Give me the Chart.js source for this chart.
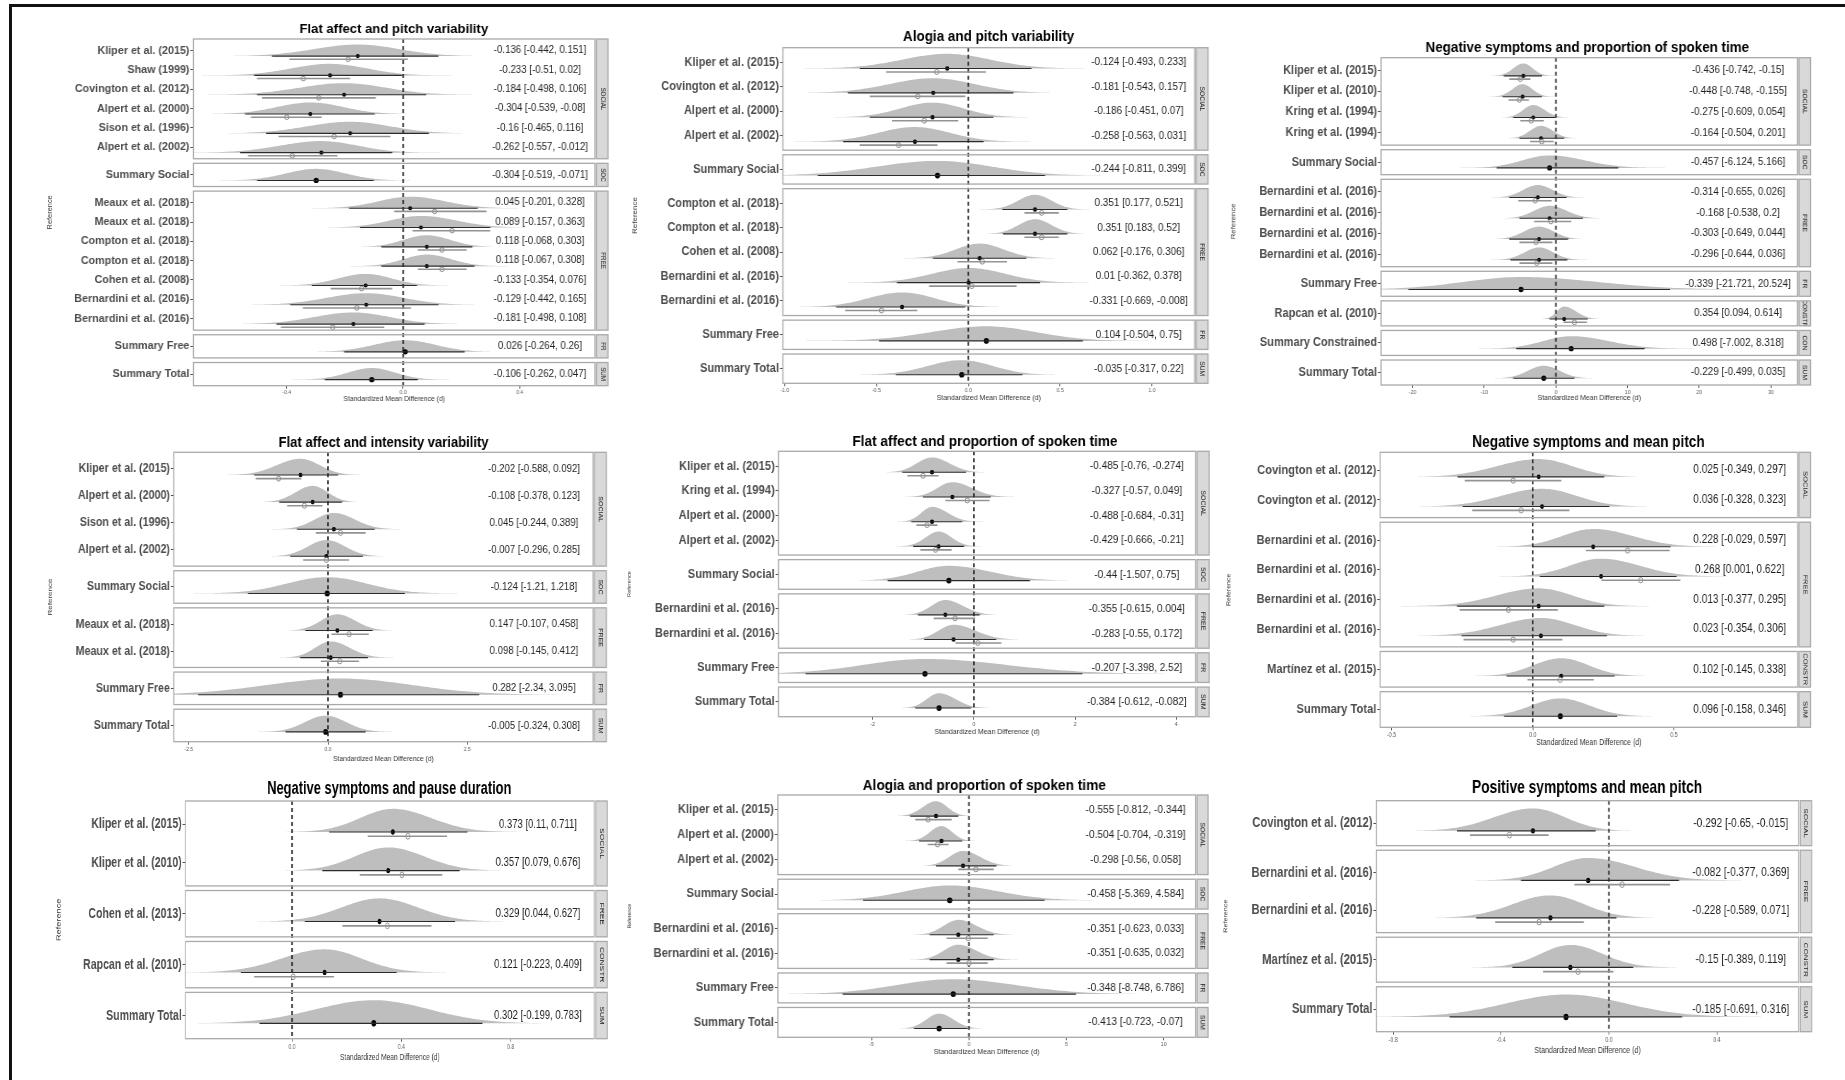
<!DOCTYPE html>
<html>
<head>
<meta charset="utf-8">
<script src="https://cdn.jsdelivr.net/npm/chart.js@4.4.1/dist/chart.umd.min.js"></script>
<style>
  html, body { margin: 0; padding: 0; background: #fff; }
  body { width: 1845px; height: 1080px; position: relative; overflow: hidden; }
  canvas { position: absolute; transform-origin: 0 0; }
  .edge { position: absolute; background: #111; }
</style>
</head>
<body>
<div class="edge" style="left:9px;top:4px;width:1836px;height:3px"></div>
<div class="edge" style="left:9px;top:4px;width:3px;height:1076px"></div>
<script>
// Nine forest plots (posterior densities + intervals), one Chart.js chart each

// ---- 1. Flat affect and pitch variability
var p1Title = "Flat affect and pitch variability";
var p1Facets = ["SOCIAL", "SOC", "FREE", "FR", "SUM"];
var p1FacetRows = [6, 1, 7, 1, 1];
var p1Labels = ["Kliper et al. (2015)", "Shaw (1999)", "Covington et al. (2012)", "Alpert et al. (2000)", "Sison et al. (1996)", "Alpert et al. (2002)", "Summary Social", "Meaux et al. (2018)", "Meaux et al. (2018)", "Compton et al. (2018)", "Compton et al. (2018)", "Cohen et al. (2008)", "Bernardini et al. (2016)", "Bernardini et al. (2016)", "Summary Free", "Summary Total"];
var p1Est = [-0.156, -0.251, -0.203, -0.319, -0.182, -0.281, -0.299, 0.024, 0.061, 0.081, 0.081, -0.129, -0.127, -0.171, 0.007, -0.108];
var p1Lo = [-0.451, -0.512, -0.502, -0.543, -0.471, -0.560, -0.502, -0.186, -0.148, -0.075, -0.075, -0.314, -0.388, -0.435, -0.203, -0.269];
var p1Hi = [0.121, -0.004, 0.079, -0.098, 0.088, -0.038, -0.101, 0.256, 0.299, 0.238, 0.245, 0.047, 0.121, 0.074, 0.211, 0.050];
var p1Obs = [-0.189, -0.343, -0.290, -0.400, -0.237, -0.381, null, 0.108, 0.168, 0.133, 0.133, -0.143, -0.159, -0.242, null, null];
var p1ObsLo = [-0.391, -0.502, -0.485, -0.523, -0.428, -0.533, null, -0.031, 0.032, 0.050, 0.050, -0.249, -0.345, -0.420, null, null];
var p1ObsHi = [0.016, -0.182, -0.094, -0.280, -0.044, -0.226, null, 0.286, 0.299, 0.218, 0.218, -0.038, 0.027, -0.065, null, null];
var p1Text = ["-0.136 [-0.442, 0.151]", "-0.233 [-0.51, 0.02]", "-0.184 [-0.498, 0.106]", "-0.304 [-0.539, -0.08]", "-0.16 [-0.465, 0.116]", "-0.262 [-0.557, -0.012]", "-0.304 [-0.519, -0.071]", "0.045 [-0.201, 0.328]", "0.089 [-0.157, 0.363]", "0.118 [-0.068, 0.303]", "0.118 [-0.067, 0.308]", "-0.133 [-0.354, 0.076]", "-0.129 [-0.442, 0.165]", "-0.181 [-0.498, 0.108]", "0.026 [-0.264, 0.26]", "-0.106 [-0.262, 0.047]"];
var p1Ticks = [-0.4, 0, 0.4];
var p1TickLabels = ["-0.4", "0.0", "0.4"];

// ---- 2. Alogia and pitch variability
var p2Title = "Alogia and pitch variability";
var p2Facets = ["SOCIAL", "SOC", "FREE", "FR", "SUM"];
var p2FacetRows = [4, 1, 5, 1, 1];
var p2Labels = ["Kliper et al. (2015)", "Covington et al. (2012)", "Alpert et al. (2000)", "Alpert et al. (2002)", "Summary Social", "Compton et al. (2018)", "Compton et al. (2018)", "Cohen et al. (2008)", "Bernardini et al. (2016)", "Bernardini et al. (2016)", "Summary Free", "Summary Total"];
var p2Est = [-0.115, -0.191, -0.195, -0.291, -0.168, 0.363, 0.363, 0.062, 0.002, -0.361, 0.098, -0.036];
var p2Lo = [-0.592, -0.656, -0.537, -0.682, -0.820, 0.185, 0.189, -0.193, -0.389, -0.720, -0.486, -0.395];
var p2Hi = [0.344, 0.246, 0.136, 0.083, 0.418, 0.539, 0.539, 0.316, 0.391, -0.017, 0.624, 0.295];
var p2Obs = [-0.172, -0.276, -0.240, -0.380, null, 0.399, 0.399, 0.076, 0.019, -0.473, null, null];
var p2ObsLo = [-0.448, -0.537, -0.416, -0.592, null, 0.306, 0.306, -0.059, -0.214, -0.671, null, null];
var p2ObsHi = [0.096, -0.017, -0.055, -0.168, null, 0.493, 0.493, 0.210, 0.263, -0.278, null, null];
var p2Text = ["-0.124 [-0.493, 0.233]", "-0.181 [-0.543, 0.157]", "-0.186 [-0.451, 0.07]", "-0.258 [-0.563, 0.031]", "-0.244 [-0.811, 0.399]", "0.351 [0.177, 0.521]", "0.351 [0.183, 0.52]", "0.062 [-0.176, 0.306]", "0.01 [-0.362, 0.378]", "-0.331 [-0.669, -0.008]", "0.104 [-0.504, 0.75]", "-0.035 [-0.317, 0.22]"];
var p2Ticks = [-1, -0.5, 0, 0.5, 1];
var p2TickLabels = ["-1.0", "-0.5", "0.0", "0.5", "1.0"];

// ---- 3. Negative symptoms and proportion of spoken time
var p3Title = "Negative symptoms and proportion of spoken time";
var p3Facets = ["SOCIAL", "SOC", "FREE", "FR", "CONSTR", "CON", "SUM"];
var p3FacetRows = [4, 1, 4, 1, 1, 1, 1];
var p3Labels = ["Kliper et al. (2015)", "Kliper et al. (2010)", "Kring et al. (1994)", "Kring et al. (1994)", "Summary Social", "Bernardini et al. (2016)", "Bernardini et al. (2016)", "Bernardini et al. (2016)", "Bernardini et al. (2016)", "Summary Free", "Rapcan et al. (2010)", "Summary Constrained", "Summary Total"];
var p3Est = [-4.54, -4.65, -3.17, -2.08, -0.88, -2.52, -0.88, -2.35, -2.35, -4.87, 1.15, 2.13, -1.70];
var p3Lo = [-7.28, -7.44, -5.96, -5.09, -8.26, -6.51, -5.09, -6.51, -6.35, -20.57, -0.88, -5.53, -5.96];
var p3Hi = [-1.97, -1.97, -0.05, 1.15, 8.70, 1.48, 3.77, 1.70, 1.59, 15.92, 4.43, 12.36, 2.57];
var p3Obs = [-4.98, -5.09, -3.45, -1.97, null, -2.90, -0.71, -2.79, -2.68, null, 2.57, null, null];
var p3ObsLo = [-6.51, -6.62, -4.98, -3.61, null, -5.25, -3.06, -5.09, -5.09, null, 1.04, null, null];
var p3ObsHi = [-3.56, -3.77, -1.70, -0.33, null, -0.60, 2.13, -0.49, -0.49, null, 4.32, null, null];
var p3Text = ["-0.436 [-0.742, -0.15]", "-0.448 [-0.748, -0.155]", "-0.275 [-0.609, 0.054]", "-0.164 [-0.504, 0.201]", "-0.457 [-6.124, 5.166]", "-0.314 [-0.655, 0.026]", "-0.168 [-0.538, 0.2]", "-0.303 [-0.649, 0.044]", "-0.296 [-0.644, 0.036]", "-0.339 [-21.721, 20.524]", "0.354 [0.094, 0.614]", "0.498 [-7.002, 8.318]", "-0.229 [-0.499, 0.035]"];
var p3Ticks = [-20, -10, 0, 10, 20, 30];
var p3TickLabels = ["-20", "-10", "0", "10", "20", "30"];

// ---- 4. Flat affect and intensity variability
var p4Title = "Flat affect and intensity variability";
var p4Facets = ["SOCIAL", "SOC", "FREE", "FR", "SUM"];
var p4FacetRows = [4, 1, 2, 1, 1];
var p4Labels = ["Kliper et al. (2015)", "Alpert et al. (2000)", "Sison et al. (1996)", "Alpert et al. (2002)", "Summary Social", "Meaux et al. (2018)", "Meaux et al. (2018)", "Summary Free", "Summary Total"];
var p4Est = [-0.493, -0.275, 0.106, -0.028, -0.014, 0.169, 0.049, 0.225, -0.042];
var p4Lo = [-1.324, -0.873, -0.556, -0.676, -1.437, -0.408, -0.500, -2.331, -0.761];
var p4Hi = [0.183, 0.254, 0.838, 0.627, 1.380, 0.803, 0.718, 2.718, 0.676];
var p4Obs = [-0.887, -0.423, 0.225, -0.028, null, 0.380, 0.211, null, null];
var p4ObsLo = [-1.296, -0.732, -0.218, -0.444, null, 0.063, -0.127, null, null];
var p4ObsHi = [-0.479, -0.099, 0.676, 0.380, null, 0.732, 0.556, null, null];
var p4Text = ["-0.202 [-0.588, 0.092]", "-0.108 [-0.378, 0.123]", "0.045 [-0.244, 0.389]", "-0.007 [-0.296, 0.285]", "-0.124 [-1.21, 1.218]", "0.147 [-0.107, 0.458]", "0.098 [-0.145, 0.412]", "0.282 [-2.34, 3.095]", "-0.005 [-0.324, 0.308]"];
var p4Ticks = [-2.5, 0, 2.5];
var p4TickLabels = ["-2.5", "0.0", "2.5"];

// ---- 5. Flat affect and proportion of spoken time
var p5Title = "Flat affect and proportion of spoken time";
var p5Facets = ["SOCIAL", "SOC", "FREE", "FR", "SUM"];
var p5FacetRows = [4, 1, 2, 1, 1];
var p5Labels = ["Kliper et al. (2015)", "Kring et al. (1994)", "Alpert et al. (2000)", "Alpert et al. (2002)", "Summary Social", "Bernardini et al. (2016)", "Bernardini et al. (2016)", "Summary Free", "Summary Total"];
var p5Est = [-0.828, -0.426, -0.828, -0.697, -0.495, -0.565, -0.402, -0.967, -0.689];
var p5Lo = [-1.416, -1.006, -1.238, -1.200, -1.703, -1.107, -0.983, -3.328, -1.161];
var p5Hi = [-0.155, 0.333, -0.232, -0.194, 1.107, 0.116, 0.441, 2.144, -0.054];
var p5Obs = [-1.006, -0.132, -0.929, -0.759, null, -0.372, 0.077, null, null];
var p5ObsLo = [-1.316, -0.565, -1.138, -1.060, null, -0.797, -0.364, null, null];
var p5ObsHi = [-0.697, 0.310, -0.720, -0.441, null, 0.023, 0.542, null, null];
var p5Text = ["-0.485 [-0.76, -0.274]", "-0.327 [-0.57, 0.049]", "-0.488 [-0.684, -0.31]", "-0.429 [-0.666, -0.21]", "-0.44 [-1.507, 0.75]", "-0.355 [-0.615, 0.004]", "-0.283 [-0.55, 0.172]", "-0.207 [-3.398, 2.52]", "-0.384 [-0.612, -0.082]"];
var p5Ticks = [-2, 0, 2, 4];
var p5TickLabels = ["-2", "0", "2", "4"];

// ---- 6. Negative symptoms and mean pitch
var p6Title = "Negative symptoms and mean pitch";
var p6Facets = ["SOCIAL", "FREE", "CONSTR", "SUM"];
var p6FacetRows = [2, 4, 1, 1];
var p6Labels = ["Covington et al. (2012)", "Covington et al. (2012)", "Bernardini et al. (2016)", "Bernardini et al. (2016)", "Bernardini et al. (2016)", "Bernardini et al. (2016)", "Martínez et al. (2015)", "Summary Total"];
var p6Est = [0.021, 0.033, 0.214, 0.242, 0.021, 0.029, 0.101, 0.098];
var p6Lo = [-0.266, -0.248, 0.000, 0.025, -0.268, -0.252, -0.093, -0.102];
var p6Hi = [0.253, 0.271, 0.488, 0.509, 0.253, 0.263, 0.290, 0.299];
var p6Obs = [-0.069, -0.041, 0.336, 0.382, -0.086, -0.069, 0.097, null];
var p6ObsLo = [-0.241, -0.214, 0.188, 0.243, -0.259, -0.245, -0.019, null];
var p6ObsHi = [0.101, 0.130, 0.485, 0.523, 0.089, 0.105, 0.216, null];
var p6Text = ["0.025 [-0.349, 0.297]", "0.036 [-0.328, 0.323]", "0.228 [-0.029, 0.597]", "0.268 [0.001, 0.622]", "0.013 [-0.377, 0.295]", "0.023 [-0.354, 0.306]", "0.102 [-0.145, 0.338]", "0.096 [-0.158, 0.346]"];
var p6Ticks = [-0.5, 0, 0.5];
var p6TickLabels = ["-0.5", "0.0", "0.5"];

// ---- 7. Negative symptoms and pause duration
var p7Title = "Negative symptoms and pause duration";
var p7Facets = ["SOCIAL", "FREE", "CONSTR", "SUM"];
var p7FacetRows = [2, 1, 1, 1];
var p7Labels = ["Kliper et al. (2015)", "Kliper et al. (2010)", "Cohen et al. (2013)", "Rapcan et al. (2010)", "Summary Total"];
var p7Est = [0.369, 0.352, 0.320, 0.119, 0.299];
var p7Lo = [0.136, 0.111, 0.047, -0.187, -0.119];
var p7Hi = [0.642, 0.613, 0.596, 0.383, 0.697];
var p7Obs = [0.424, 0.402, 0.349, 0.004, null];
var p7ObsLo = [0.277, 0.248, 0.184, -0.139, null];
var p7ObsHi = [0.567, 0.550, 0.510, 0.154, null];
var p7Text = ["0.373 [0.11, 0.711]", "0.357 [0.079, 0.676]", "0.329 [0.044, 0.627]", "0.121 [-0.223, 0.409]", "0.302 [-0.199, 0.783]"];
var p7Ticks = [0, 0.4, 0.8];
var p7TickLabels = ["0.0", "0.4", "0.8"];

// ---- 8. Alogia and proportion of spoken time
var p8Title = "Alogia and proportion of spoken time";
var p8Facets = ["SOCIAL", "SOC", "FREE", "FR", "SUM"];
var p8FacetRows = [3, 1, 2, 1, 1];
var p8Labels = ["Kliper et al. (2015)", "Alpert et al. (2000)", "Alpert et al. (2002)", "Summary Social", "Bernardini et al. (2016)", "Bernardini et al. (2016)", "Summary Free", "Summary Total"];
var p8Est = [-1.691, -1.409, -0.302, -0.987, -0.544, -0.544, -0.805, -1.530];
var p8Lo = [-3.020, -2.557, -1.691, -5.436, -2.013, -2.013, -6.483, -2.819];
var p8Hi = [-0.544, -0.342, 1.409, 3.886, 1.268, 1.268, 5.496, -0.081];
var p8Obs = [-2.094, -1.611, 0.362, null, -0.040, 0.000, null, null];
var p8ObsLo = [-2.758, -2.114, -0.544, null, -1.148, -1.148, null, null];
var p8ObsHi = [-0.886, -1.047, 1.268, null, 0.966, 0.966, null, null];
var p8Text = ["-0.555 [-0.812, -0.344]", "-0.504 [-0.704, -0.319]", "-0.298 [-0.56, 0.058]", "-0.458 [-5.369, 4.584]", "-0.351 [-0.623, 0.033]", "-0.351 [-0.635, 0.032]", "-0.348 [-8.748, 6.786]", "-0.413 [-0.723, -0.07]"];
var p8Ticks = [-5, 0, 5, 10];
var p8TickLabels = ["-5", "0", "5", "10"];

// ---- 9. Positive symptoms and mean pitch
var p9Title = "Positive symptoms and mean pitch";
var p9Facets = ["SOCIAL", "FREE", "CONSTR", "SUM"];
var p9FacetRows = [1, 2, 1, 1];
var p9Labels = ["Covington et al. (2012)", "Bernardini et al. (2016)", "Bernardini et al. (2016)", "Martínez et al. (2015)", "Summary Total"];
var p9Est = [-0.282, -0.077, -0.217, -0.143, -0.159];
var p9Lo = [-0.564, -0.326, -0.492, -0.358, -0.591];
var p9Hi = [-0.049, 0.260, 0.028, 0.090, 0.271];
var p9Obs = [-0.369, 0.049, -0.259, -0.115, null];
var p9ObsLo = [-0.515, -0.128, -0.422, -0.244, null];
var p9ObsHi = [-0.224, 0.227, -0.093, 0.017, null];
var p9Text = ["-0.292 [-0.65, -0.015]", "-0.082 [-0.377, 0.369]", "-0.228 [-0.589, 0.071]", "-0.15 [-0.389, 0.119]", "-0.185 [-0.691, 0.316]"];
var p9Ticks = [-0.8, -0.4, 0, 0.4];
var p9TickLabels = ["-0.8", "-0.4", "0.0", "0.4"];

// ---- styles
var FONT = "'Liberation Sans', Arial, Helvetica, sans-serif";
var DENSITY = "#bebebe";
var EST_LINE = "#2b2b2b";
var OBS_LINE = "#939393";
var BORDER = "#a9a9a9";
var STRIP = "#d9d9d9";
var LABEL = "#4d4d4d";
var GAP = 4.6;      // px between facet boxes
var X_AXIS_H = 14;  // px reserved for x tick marks + labels

Chart.defaults.font.family = FONT;
Chart.defaults.color = LABEL;

// layout: canvas [left, top, w, h] and box = plot area [l, t, r, b] in page px;
// sx = horizontal squeeze of the panel, fs = label font size
var panels = [
  { title: p1Title, facets: p1Facets, facetRows: p1FacetRows, labels: p1Labels, est: p1Est, lo: p1Lo, hi: p1Hi, obs: p1Obs, obsLo: p1ObsLo, obsHi: p1ObsHi, text: p1Text, ticks: p1Ticks, tickLabels: p1TickLabels,
    canvas: [0, 0, 627, 420], box: [193.4, 39, 595.0, 385.7], stripR: 607.9, xRange: [-0.7205, 0.6587], textX: 0.47,
    titleX: 393.8, titleY: 29.3, refX: 50.2, refSize: 7.4, axisDy: 13, sx: 0.96, fs: 11.2 },
  { title: p2Title, facets: p2Facets, facetRows: p2FacetRows, labels: p2Labels, est: p2Est, lo: p2Lo, hi: p2Hi, obs: p2Obs, obsLo: p2ObsLo, obsHi: p2ObsHi, text: p2Text, ticks: p2Ticks, tickLabels: p2TickLabels,
    canvas: [603, 0, 627, 420], box: [782.9, 47.7, 1194.7, 383.3], stripR: 1208, xRange: [-1.01, 1.233], textX: 0.928,
    titleX: 988.6, titleY: 36.7, refX: 635.4, refSize: 8, axisDy: 15, sx: 0.92, fs: 12 },
  { title: p3Title, facets: p3Facets, facetRows: p3FacetRows, labels: p3Labels, est: p3Est, lo: p3Lo, hi: p3Hi, obs: p3Obs, obsLo: p3ObsLo, obsHi: p3ObsHi, text: p3Text, ticks: p3Ticks, tickLabels: p3TickLabels,
    canvas: [1218, 0, 627, 420], box: [1381, 57.7, 1797.5, 385], stripR: 1810.5, xRange: [-24.4, 33.7], textX: 25.4,
    titleX: 1587.3, titleY: 48.3, refX: 1233, refSize: 7.8, axisDy: 13, sx: 0.915, fs: 12 },
  { title: p4Title, facets: p4Facets, facetRows: p4FacetRows, labels: p4Labels, est: p4Est, lo: p4Lo, hi: p4Hi, obs: p4Obs, obsLo: p4ObsLo, obsHi: p4ObsHi, text: p4Text, ticks: p4Ticks, tickLabels: p4TickLabels,
    canvas: [0, 400, 627, 380], box: [173.8, 452.3, 593, 741.7], stripR: 606.4, xRange: [-2.768, 4.76], textX: 3.70,
    titleX: 383.6, titleY: 442.7, refX: 50.2, refSize: 8, axisDy: 17, sx: 0.854, fs: 12.5 },
  { title: p5Title, facets: p5Facets, facetRows: p5FacetRows, labels: p5Labels, est: p5Est, lo: p5Lo, hi: p5Hi, obs: p5Obs, obsLo: p5ObsLo, obsHi: p5ObsHi, text: p5Text, ticks: p5Ticks, tickLabels: p5TickLabels,
    canvas: [603, 400, 627, 380], box: [778.6, 451.3, 1195.5, 716.7], stripR: 1209.2, xRange: [-3.86, 4.38], textX: 3.22,
    titleX: 985, titleY: 441.7, refX: 629.5, refSize: 5.6, axisDy: 15, sx: 0.894, fs: 12.5 },
  { title: p6Title, facets: p6Facets, facetRows: p6FacetRows, labels: p6Labels, est: p6Est, lo: p6Lo, hi: p6Hi, obs: p6Obs, obsLo: p6ObsLo, obsHi: p6ObsHi, text: p6Text, ticks: p6Ticks, tickLabels: p6TickLabels,
    canvas: [1218, 400, 627, 380], box: [1380.2, 452.3, 1797.5, 727.3], stripR: 1810.5, xRange: [-0.54, 0.9375], textX: 0.733,
    titleX: 1588.5, titleY: 442.7, refX: 1229, refSize: 7, axisDy: 15.4, sx: 0.828, fs: 13.5 },
  { title: p7Title, facets: p7Facets, facetRows: p7FacetRows, labels: p7Labels, est: p7Est, lo: p7Lo, hi: p7Hi, obs: p7Obs, obsLo: p7ObsLo, obsHi: p7ObsHi, text: p7Text, ticks: p7Ticks, tickLabels: p7TickLabels,
    canvas: [0, 760, 627, 320], box: [185.5, 801, 594.2, 1038.7], stripR: 607.2, xRange: [-0.39, 1.106], textX: 0.90,
    titleX: 389.3, titleY: 789, refX: 58.8, refSize: 9.2, axisDy: 18.5, sx: 0.705, fs: 15 },
  { title: p8Title, facets: p8Facets, facetRows: p8FacetRows, labels: p8Labels, est: p8Est, lo: p8Lo, hi: p8Hi, obs: p8Obs, obsLo: p8ObsLo, obsHi: p8ObsHi, text: p8Text, ticks: p8Ticks, tickLabels: p8TickLabels,
    canvas: [603, 760, 627, 320], box: [777.8, 795, 1195.5, 1037.3], stripR: 1208, xRange: [-9.81, 11.63], textX: 8.55,
    titleX: 984.3, titleY: 785.7, refX: 629.5, refSize: 5.4, axisDy: 14.7, sx: 0.935, fs: 12 },
  { title: p9Title, facets: p9Facets, facetRows: p9FacetRows, labels: p9Labels, est: p9Est, lo: p9Lo, hi: p9Hi, obs: p9Obs, obsLo: p9ObsLo, obsHi: p9ObsHi, text: p9Text, ticks: p9Ticks, tickLabels: p9TickLabels,
    canvas: [1218, 760, 627, 320], box: [1376.3, 800.7, 1798.7, 1031.7], stripR: 1811.7, xRange: [-0.8626, 0.7038], textX: 0.489,
    titleX: 1587.1, titleY: 788.3, refX: 1226, refSize: 7.2, axisDy: 18.3, sx: 0.778, fs: 14.5 }
];

panels.forEach(buildPanel);

function drawText(ctx, str, x, y, font, color, align, rot) {
  ctx.save();
  ctx.translate(x, y);
  if (rot) ctx.rotate(rot);
  ctx.font = font;
  ctx.fillStyle = color;
  ctx.textAlign = align || "center";
  ctx.textBaseline = "middle";
  ctx.fillText(str, 0, 0);
  ctx.restore();
}

// split-normal slab shaped by the interval around the estimate
function drawDensity(ctx, xs, est, lo, hi, base, height) {
  var sdL = Math.max((est - lo) / 1.96, 1e-6);
  var sdR = Math.max((hi - est) / 1.96, 1e-6);
  var a = est - 3.3 * sdL, b = est + 3.3 * sdR, n = 100;
  ctx.beginPath();
  ctx.moveTo(xs.getPixelForValue(a), base);
  for (var k = 0; k <= n; k++) {
    var v = a + (b - a) * k / n;
    var z = v < est ? (v - est) / sdL : (v - est) / sdR;
    ctx.lineTo(xs.getPixelForValue(v), base - height * Math.exp(-0.5 * z * z));
  }
  ctx.lineTo(xs.getPixelForValue(b), base);
  ctx.closePath();
  ctx.fill();
}

function buildPanel(p) {
  var sx = p.sx, fs = p.fs;
  var cl = p.canvas[0], ct = p.canvas[1], ch = p.canvas[3];
  var cw = Math.round(p.canvas[2] / sx);           // drawn wide, squeezed by CSS
  function ix(pageX) { return (pageX - cl) / sx; }  // page x -> canvas x

  var cv = document.createElement("canvas");
  cv.width = cw; cv.height = ch;
  cv.style.left = cl + "px"; cv.style.top = ct + "px";
  cv.style.transform = "scaleX(" + sx + ")";
  document.body.appendChild(cv);

  // row positions (px from plot top) from facet sizes
  var H = p.box[3] - p.box[1];
  var K = p.facetRows.length;
  var N = p.facetRows.reduce(function (s, n) { return s + n; }, 0);
  var u = (H - (K - 1) * GAP) / (N + 0.2 * K);
  var rowY = [], rowFacet = [], spans = [], acc = 0;
  p.facetRows.forEach(function (n, f) {
    for (var j = 0; j < n; j++) { rowY.push(acc + 0.6 * u + j * u); rowFacet.push(f); }
    var bot = acc + (n + 0.2) * u;
    spans.push([acc, bot]);
    acc = bot + GAP;
  });
  var off1 = 0.12 * u + 3.2;
  var off2 = off1 + 0.06 * u + 2;
  var rDot = 1.5 + 0.03 * u;

  var estSeg = [], obsSeg = [], estPts = [], obsPts = [], estR = [];
  p.est.forEach(function (e, i) {
    estSeg.push({ x: p.lo[i], y: rowY[i] + off1 }, { x: p.hi[i], y: rowY[i] + off1 }, { x: p.hi[i], y: null });
    estPts.push({ x: e, y: rowY[i] + off1 });
    estR.push(p.obs[i] == null ? rDot + 0.6 : rDot);
    if (p.obs[i] != null) {
      obsSeg.push({ x: p.obsLo[i], y: rowY[i] + off2 }, { x: p.obsHi[i], y: rowY[i] + off2 }, { x: p.obsHi[i], y: null });
      obsPts.push({ x: p.obs[i], y: rowY[i] + off2 });
    }
  });

  var forest = {
    id: "forest",
    beforeDatasetsDraw: function (chart) {
      var ctx = chart.ctx, xs = chart.scales.x, ys = chart.scales.y, area = chart.chartArea;
      // slabs, clipped to their facet box
      spans.forEach(function (sp, f) {
        var t = ys.getPixelForValue(sp[0]), b = ys.getPixelForValue(sp[1]);
        ctx.save();
        ctx.beginPath();
        ctx.rect(area.left, t, area.right - area.left, b - t);
        ctx.clip();
        ctx.fillStyle = DENSITY;
        p.est.forEach(function (e, i) {
          if (rowFacet[i] !== f) return;
          drawDensity(ctx, xs, e, p.lo[i], p.hi[i], ys.getPixelForValue(rowY[i] + off1), 0.6 * u);
        });
        ctx.restore();
      });
      // zero reference line
      var x0 = xs.getPixelForValue(0);
      ctx.save();
      ctx.strokeStyle = "#1a1a1a";
      ctx.lineWidth = 1.4 / sx;
      ctx.setLineDash([4, 3]);
      ctx.beginPath();
      ctx.moveTo(x0, area.top);
      ctx.lineTo(x0, area.bottom);
      ctx.stroke();
      ctx.restore();
    },
    afterDatasetsDraw: function (chart) {
      var ctx = chart.ctx, xs = chart.scales.x, ys = chart.scales.y, area = chart.chartArea;
      var sL = area.right + 1.5 / sx, sR = ix(p.stripR);
      spans.forEach(function (sp, f) {
        var t = ys.getPixelForValue(sp[0]), b = ys.getPixelForValue(sp[1]);
        ctx.save();
        ctx.strokeStyle = BORDER;
        ctx.lineWidth = 1.3;
        ctx.strokeRect(area.left, t, area.right - area.left, b - t);
        ctx.fillStyle = STRIP;
        ctx.fillRect(sL, t, sR - sL, b - t);
        ctx.strokeRect(sL, t, sR - sL, b - t);
        ctx.beginPath();
        ctx.rect(sL, t + 0.7, sR - sL, b - t - 1.4);
        ctx.clip();
        drawText(ctx, p.facets[f], (sL + sR) / 2, (t + b) / 2, (0.56 * fs) + "px " + FONT, "#1a1a1a", "center", Math.PI / 2);
        ctx.restore();
      });
      var tx = xs.getPixelForValue(p.textX);
      p.text.forEach(function (s, i) {
        drawText(ctx, s, tx, ys.getPixelForValue(rowY[i]), (0.9 * fs) + "px " + FONT, "#1f1f1f", "center");
      });
      drawText(ctx, p.title, ix(p.titleX), p.titleY - ct, "bold " + (1.22 * fs) + "px " + FONT, "#000", "center");
      drawText(ctx, "Reference", ix(p.refX), (area.top + area.bottom) / 2, p.refSize + "px " + FONT, "#333", "center", -Math.PI / 2);
      drawText(ctx, "Standardized Mean Difference (d)", (area.left + area.right) / 2, area.bottom + p.axisDy, (0.63 * fs) + "px " + FONT, "#333", "center");
    }
  };

  new Chart(cv, {
    type: "scatter",
    data: {
      datasets: [
        { data: obsSeg, showLine: true, spanGaps: false, borderColor: OBS_LINE, borderWidth: 1.6, pointRadius: 0 },
        { data: estSeg, showLine: true, spanGaps: false, borderColor: EST_LINE, borderWidth: 1.1, pointRadius: 0 },
        { data: obsPts, pointRadius: rDot + 0.2, backgroundColor: "#ffffff", borderColor: "#6e6e6e", borderWidth: 0.8 },
        { data: estPts, pointRadius: estR, backgroundColor: "#000000", borderColor: "#000000", borderWidth: 0 }
      ]
    },
    options: {
      responsive: false,
      animation: false,
      events: [],
      layout: {
        padding: {
          left: 0,
          top: p.box[1] - ct,
          right: cw - ix(p.box[2]),
          bottom: ch - (p.box[3] - ct) - X_AXIS_H
        }
      },
      plugins: { legend: { display: false }, tooltip: { enabled: false } },
      scales: {
        x: {
          type: "linear",
          min: p.xRange[0],
          max: p.xRange[1],
          afterBuildTicks: function (s) { s.ticks = p.ticks.map(function (v) { return { value: v }; }); },
          afterFit: function (s) { s.height = X_AXIS_H; },
          ticks: {
            autoSkip: false, maxRotation: 0, padding: 1, color: "#5a5a5a",
            font: { size: 0.47 * fs },
            callback: function (v, i) { return p.tickLabels[i]; }
          },
          grid: { drawOnChartArea: false, drawTicks: true, tickLength: 3, tickColor: "#5a5a5a" },
          border: { display: false }
        },
        y: {
          type: "linear",
          min: 0,
          max: H,
          reverse: true,
          afterBuildTicks: function (s) { s.ticks = rowY.map(function (v) { return { value: v }; }); },
          afterFit: function (s) { s.width = ix(p.box[0]); },
          ticks: {
            autoSkip: false, padding: 1, color: LABEL,
            font: { size: fs, weight: "bold" },
            callback: function (v, i) { return p.labels[i]; }
          },
          grid: { drawOnChartArea: false, drawTicks: true, tickLength: 3 / sx, tickColor: LABEL },
          border: { display: false }
        }
      }
    },
    plugins: [forest]
  });
}
</script>
</body>
</html>
